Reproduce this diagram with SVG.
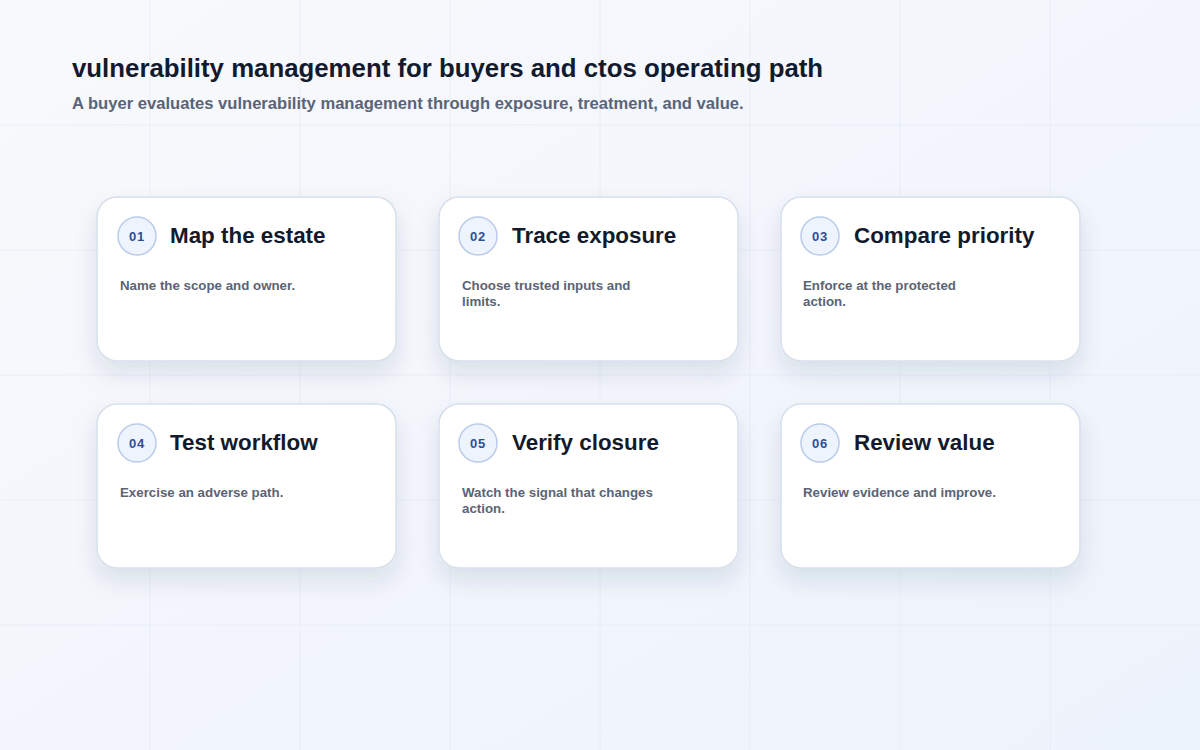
<svg xmlns="http://www.w3.org/2000/svg" width="1200" height="750" viewBox="0 0 1200 750">
<defs>
<linearGradient id="bg" x1="0" y1="0" x2="1" y2="1">
<stop offset="0" stop-color="#f8f9fc"/>
<stop offset="1" stop-color="#edf3fc"/>
</linearGradient>
<filter id="shadow" x="-20%" y="-20%" width="140%" height="160%">
<feDropShadow dx="0" dy="12" stdDeviation="11" flood-color="#1e2a4a" flood-opacity="0.11"/>
</filter>
<style>
.grid line{stroke:#e3e8f0;stroke-width:1;stroke-opacity:0.6}
.card{fill:#ffffff;stroke:#d6dfeb;stroke-width:1.5;filter:url(#shadow)}
.badge{fill:#eef4fe;stroke:#b9cbea;stroke-width:1.5}
.num{font-family:"Liberation Sans",Arial,sans-serif;font-weight:700;font-size:13px;fill:#2f4e97;text-anchor:middle;letter-spacing:0.8px}
.ttl{font-family:"Liberation Sans",Arial,sans-serif;font-weight:700;font-size:22.4px;fill:#121a2c}
.desc{font-family:"Liberation Sans",Arial,sans-serif;font-weight:700;font-size:13.3px;fill:#5b6475}
.h1{font-family:"Liberation Sans",Arial,sans-serif;font-weight:700;font-size:25.8px;fill:#121a2e}
.h2{font-family:"Liberation Sans",Arial,sans-serif;font-weight:700;font-size:16.6px;fill:#5a6478}
</style>
</defs>
<rect width="1200" height="750" fill="url(#bg)"/>
<g class="grid">
<line x1="150" y1="0" x2="150" y2="750"/>
<line x1="300" y1="0" x2="300" y2="750"/>
<line x1="450" y1="0" x2="450" y2="750"/>
<line x1="600" y1="0" x2="600" y2="750"/>
<line x1="750" y1="0" x2="750" y2="750"/>
<line x1="900" y1="0" x2="900" y2="750"/>
<line x1="1050" y1="0" x2="1050" y2="750"/>
<line x1="0" y1="125" x2="1200" y2="125"/>
<line x1="0" y1="250" x2="1200" y2="250"/>
<line x1="0" y1="375" x2="1200" y2="375"/>
<line x1="0" y1="500" x2="1200" y2="500"/>
<line x1="0" y1="625" x2="1200" y2="625"/>
</g>
<g id="header">
<text class="h1" x="72" y="77">vulnerability management for buyers and ctos operating path</text>
<text class="h2" x="72" y="109">A buyer evaluates vulnerability management through exposure, treatment, and value.</text>
</g>
<g id="connectors"></g>
<g id="node-01">
<rect class="card" x="97" y="197" width="299" height="164" rx="20"/>
<circle class="badge" cx="137" cy="236" r="19"/>
<text class="num" x="137" y="241">01</text>
<text class="ttl" x="170" y="243">Map the estate</text>
<text class="desc" x="120" y="290">Name the scope and owner.</text>
</g>
<g id="node-02">
<rect class="card" x="439" y="197" width="299" height="164" rx="20"/>
<circle class="badge" cx="478" cy="236" r="19"/>
<text class="num" x="478" y="241">02</text>
<text class="ttl" x="512" y="243">Trace exposure</text>
<text class="desc" x="462" y="290">Choose trusted inputs and</text>
<text class="desc" x="462" y="306">limits.</text>
</g>
<g id="node-03">
<rect class="card" x="781" y="197" width="299" height="164" rx="20"/>
<circle class="badge" cx="820" cy="236" r="19"/>
<text class="num" x="820" y="241">03</text>
<text class="ttl" x="854" y="243">Compare priority</text>
<text class="desc" x="803" y="290">Enforce at the protected</text>
<text class="desc" x="803" y="306">action.</text>
</g>
<g id="node-04">
<rect class="card" x="97" y="404" width="299" height="164" rx="20"/>
<circle class="badge" cx="137" cy="443" r="19"/>
<text class="num" x="137" y="448">04</text>
<text class="ttl" x="170" y="450">Test workflow</text>
<text class="desc" x="120" y="497">Exercise an adverse path.</text>
</g>
<g id="node-05">
<rect class="card" x="439" y="404" width="299" height="164" rx="20"/>
<circle class="badge" cx="478" cy="443" r="19"/>
<text class="num" x="478" y="448">05</text>
<text class="ttl" x="512" y="450">Verify closure</text>
<text class="desc" x="462" y="497">Watch the signal that changes</text>
<text class="desc" x="462" y="513">action.</text>
</g>
<g id="node-06">
<rect class="card" x="781" y="404" width="299" height="164" rx="20"/>
<circle class="badge" cx="820" cy="443" r="19"/>
<text class="num" x="820" y="448">06</text>
<text class="ttl" x="854" y="450">Review value</text>
<text class="desc" x="803" y="497">Review evidence and improve.</text>
</g>
</svg>
